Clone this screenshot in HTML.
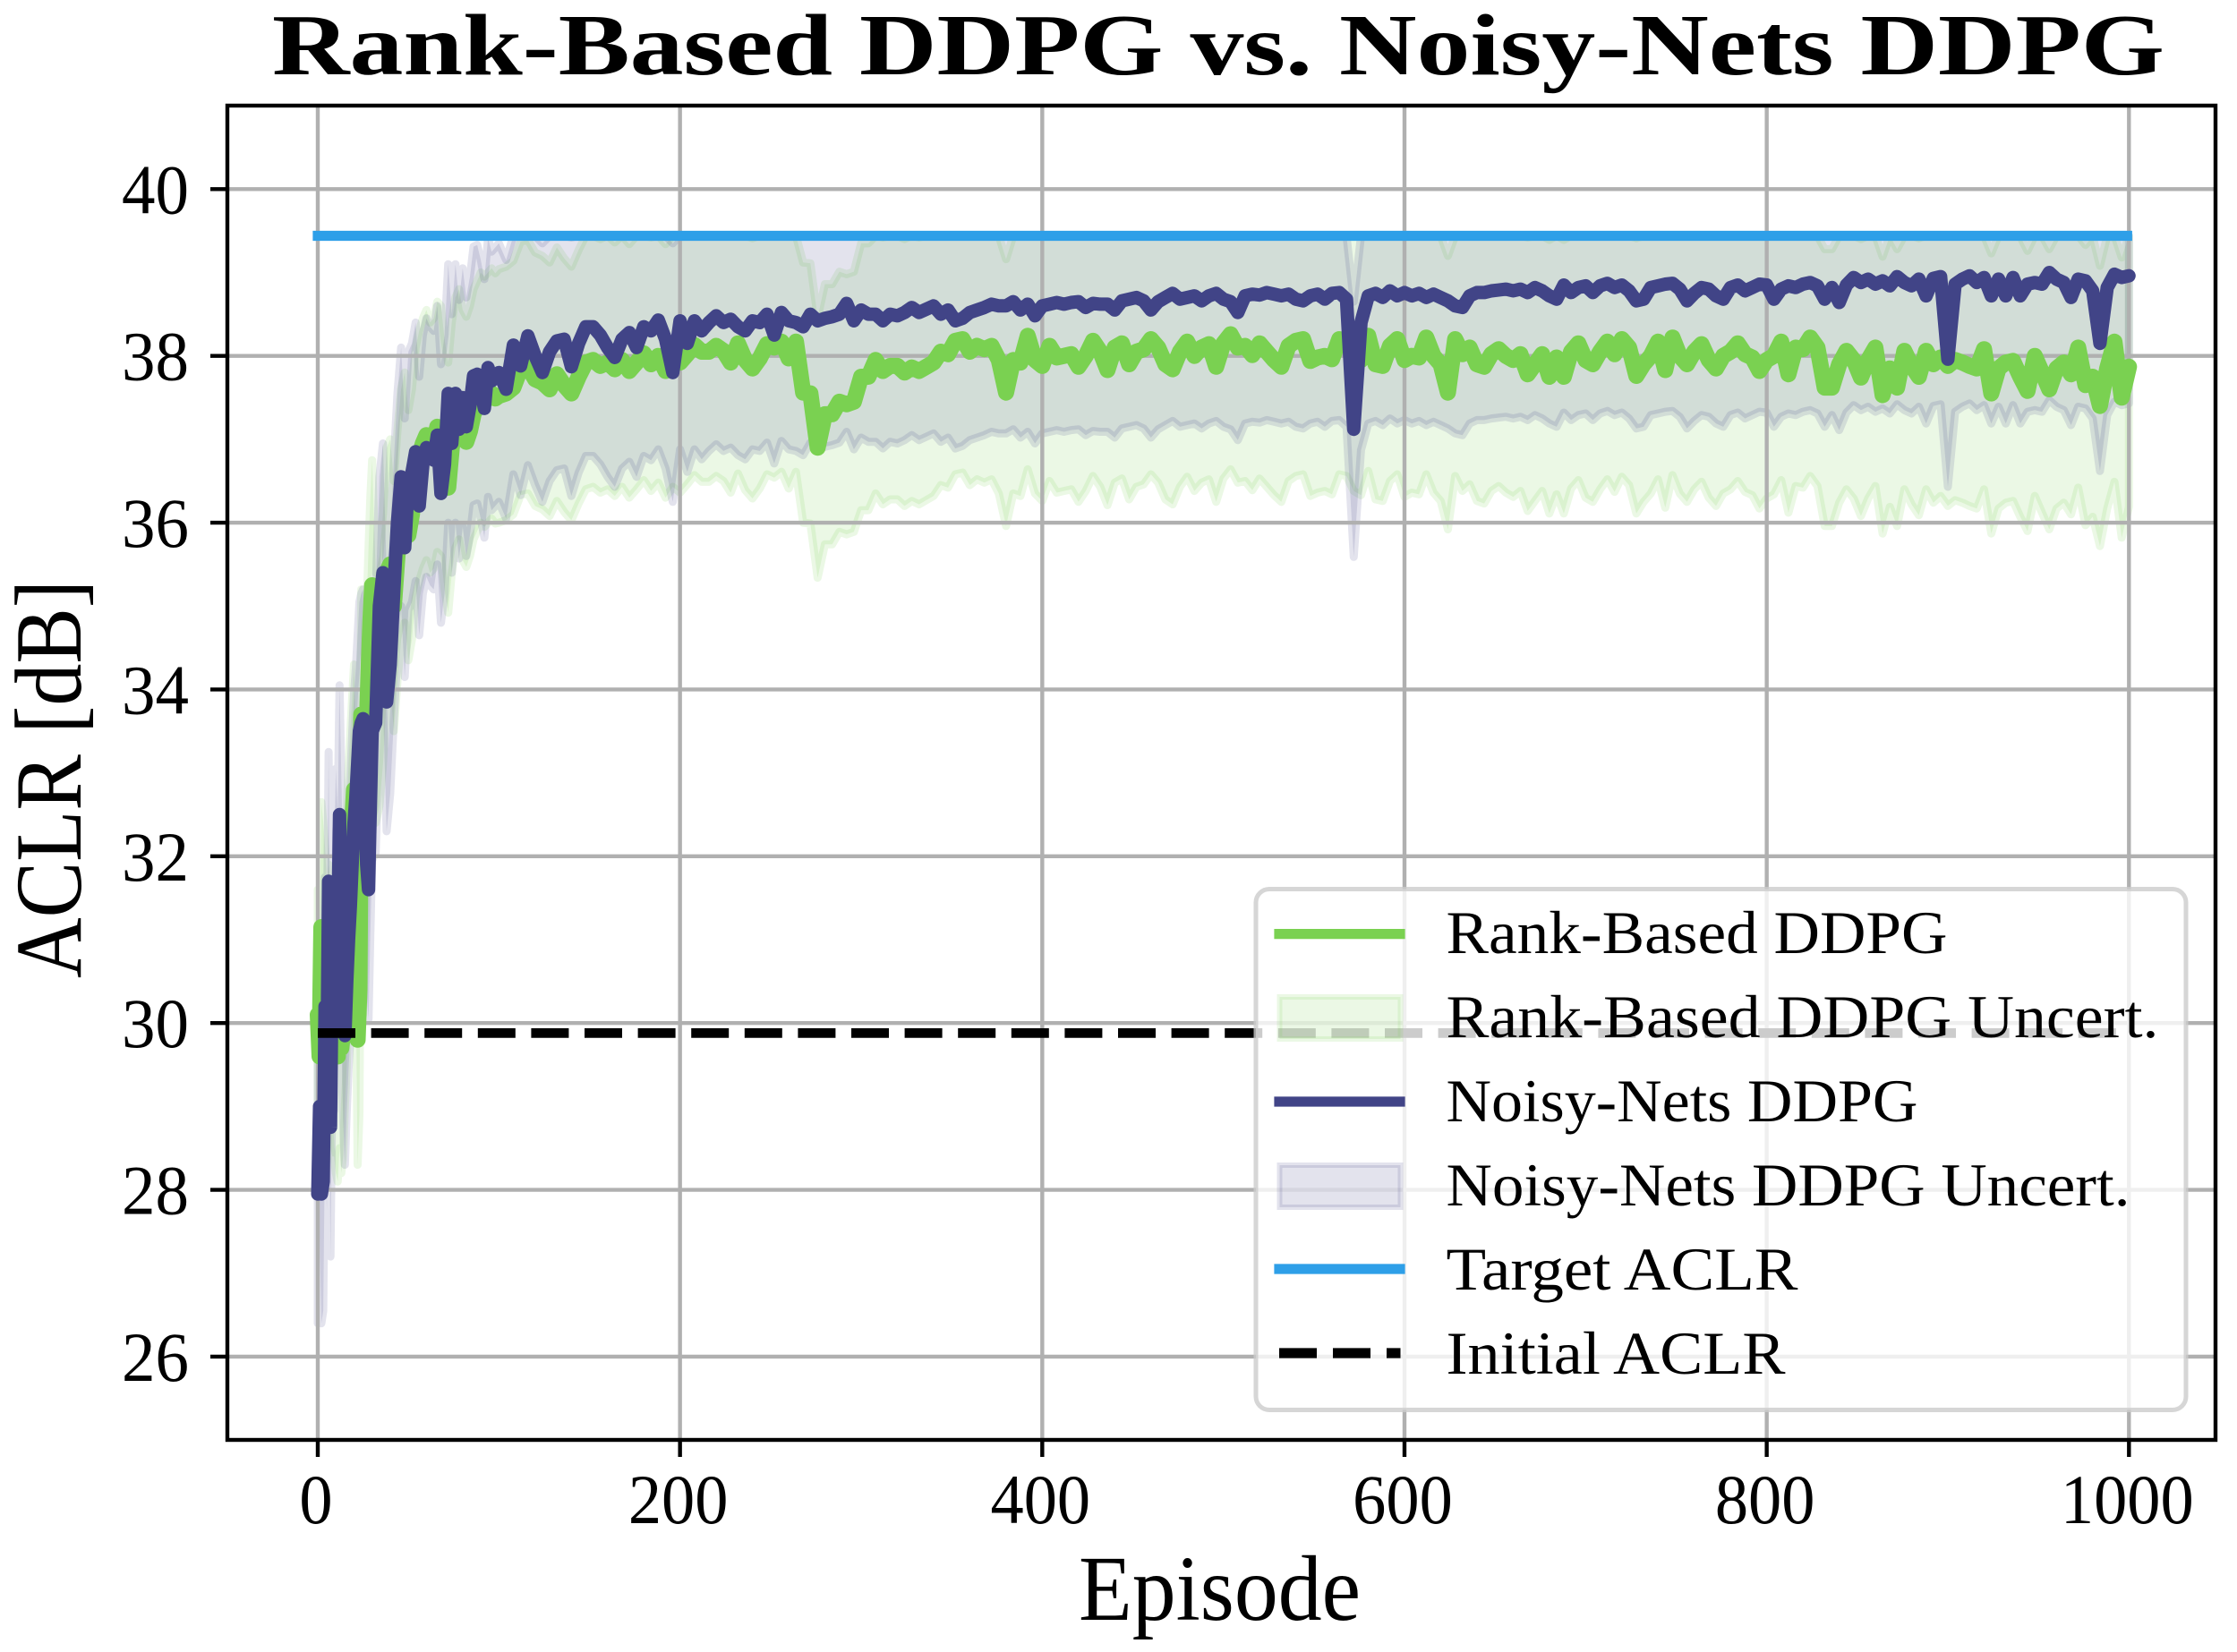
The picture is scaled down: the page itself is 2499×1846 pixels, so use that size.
<!DOCTYPE html>
<html lang="en">
<head>
<meta charset="utf-8">
<title>Rank-Based DDPG vs. Noisy-Nets DDPG</title>
<style>
html,body{margin:0;padding:0;background:#fff;}
svg{display:block;}
text{font-family:"Liberation Serif",serif;fill:#000;}
</style>
</head>
<body>
<svg id="chart" xmlns="http://www.w3.org/2000/svg" width="2499" height="1846" viewBox="0 0 2499 1846">
  <rect x="0" y="0" width="2499" height="1846" fill="#fff"/>
  <defs>
    <clipPath id="plot-clip"><rect x="254" y="118" width="2221" height="1491"/></clipPath>
  </defs>
  <text x="304" y="83" font-size="97" font-weight="bold" textLength="2114" lengthAdjust="spacingAndGlyphs">Rank-Based DDPG vs. Noisy-Nets DDPG</text>
  <g id="bands" clip-path="url(#plot-clip)"></g>
  <g id="grid" clip-path="url(#plot-clip)"></g>
  <g id="lines" clip-path="url(#plot-clip)"></g>
  <rect x="254" y="118" width="2221" height="1491" fill="none" stroke="#000" stroke-width="4.4"/>
  <g id="ticks"></g>
  <text x="1205" y="1810" font-size="104" textLength="315" lengthAdjust="spacingAndGlyphs">Episode</text>
  <text transform="translate(90,1093) rotate(-90)" font-size="106" textLength="445" lengthAdjust="spacingAndGlyphs">ACLR [dB]</text>
  <g id="legend">
    <rect x="1403" y="993.5" width="1039" height="582" rx="15" ry="15" fill="#fff" fill-opacity="0.8" stroke="#ccc" stroke-opacity="0.8" stroke-width="5"/>
    <line x1="1429" x2="1564" y1="1043.6" y2="1043.6" stroke="#7ad151" stroke-width="11.2" stroke-linecap="square"/>
    <rect x="1429.5" y="1114" width="135" height="47" fill="#7ad151" fill-opacity="0.15" stroke="#7ad151" stroke-opacity="0.15" stroke-width="6"/>
    <line x1="1429" x2="1564" y1="1231" y2="1231" stroke="#414487" stroke-width="11.2" stroke-linecap="square"/>
    <rect x="1429.5" y="1302" width="135" height="47" fill="#414487" fill-opacity="0.15" stroke="#414487" stroke-opacity="0.15" stroke-width="6"/>
    <line x1="1429" x2="1564" y1="1418" y2="1418" stroke="#2e9fe8" stroke-width="11.2" stroke-linecap="square"/>
    <line x1="1429" x2="1564.5" y1="1512" y2="1512" stroke="#000" stroke-width="11.2" stroke-dasharray="42 18"/>
    <text x="1615.5" y="1065" font-size="68" textLength="560" lengthAdjust="spacingAndGlyphs">Rank-Based DDPG</text>
    <text x="1615.5" y="1159" font-size="68" textLength="796" lengthAdjust="spacingAndGlyphs">Rank-Based DDPG Uncert.</text>
    <text x="1615.5" y="1253" font-size="68" textLength="527" lengthAdjust="spacingAndGlyphs">Noisy-Nets DDPG</text>
    <text x="1615.5" y="1347" font-size="68" textLength="764" lengthAdjust="spacingAndGlyphs">Noisy-Nets DDPG Uncert.</text>
    <text x="1615.5" y="1441" font-size="68" textLength="393" lengthAdjust="spacingAndGlyphs">Target ACLR</text>
    <text x="1615.5" y="1535" font-size="68" textLength="379" lengthAdjust="spacingAndGlyphs">Initial ACLR</text>
  </g>
</svg>
<script>
var xTickValues = [0, 200, 400, 600, 800, 1000];
var yTickValues = [26, 28, 30, 32, 34, 36, 38, 40];
var targetEpisodes = [0, 999];
var targetAclr = [39.44, 39.44];
var initialEpisodes = [0, 1000];
var initialAclr = [29.88, 29.88];
var rankHalfWidth = [1.5, 1.52, 1.56, 1.6, 1.62, 1.62, 1.64, 1.65, 1.66, 1.68, 1.68];
var noisyHalfWidth = [1.55, 1.55, 1.54, 1.53, 1.53, 1.53, 1.53, 1.53, 1.53, 1.53, 1.53];

var episodes = [
0,1,2,3,4,5,6,7,8,9,10,11,12,13,14,15,16,17,18,19,20,21,22,23,24,25,26,27,28,29,30,
32,34,36,38,40,42,44,46,48,50,52,54,56,58,60,62,64,66,68,70,72,74,76,78,80,82,84,86,88,90,92,94,96,98,
100,104,108,112,116,120,124,128,132,136,140,144,148,152,156,160,164,168,172,176,180,184,188,192,196,
200,204,208,212,216,220,224,228,232,236,240,244,248,252,256,260,264,268,272,276,280,284,288,292,296,
300,304,308,312,316,320,324,328,332,336,340,344,348,352,356,360,364,368,372,376,380,384,388,392,396,
400,404,408,412,416,420,424,428,432,436,440,444,448,452,456,460,464,468,472,476,480,484,488,492,496,
500,504,508,512,516,520,524,528,532,536,540,544,548,552,556,560,564,568,572,576,580,584,588,592,596,
600,604,608,612,616,620,624,628,632,636,640,644,648,652,656,660,664,668,672,676,680,684,688,692,696,
700,704,708,712,716,720,724,728,732,736,740,744,748,752,756,760,764,768,772,776,780,784,788,792,796,
800,804,808,812,816,820,824,828,832,836,840,844,848,852,856,860,864,868,872,876,880,884,888,892,896,
900,904,908,912,916,920,924,928,932,936,940,944,948,952,956,960,964,968,972,976,980,984,988,992,996,1000
];

var rankMean = [
30.1,29.6,31.15,30.9,30.6,30.2,30.4,30.0,29.9,29.9,29.7,
29.6,30.0,29.7,29.9,30.5,31.0,31.6,32.0,32.4,32.8,
32.0,29.8,30.4,33.7,31.6,32.5,33.5,34.2,34.8,35.25,
33.9,34.1,34.6,35.4,35.5,35.0,35.6,36.1,36.3,35.85,36.1,36.6,36.8,36.95,37.05,36.9,36.95,37.15,37.1,36.7,36.42,36.9,37.2,37.3,37.05,36.97,37.1,37.3,37.4,37.5,37.45,37.5,37.55,37.49,
37.52,37.55,37.62,37.85,37.87,37.72,37.68,37.6,37.78,37.65,37.55,37.75,37.92,37.95,37.88,37.92,37.84,37.95,37.82,37.92,38.03,37.9,38.0,37.82,37.95,
37.92,38.02,38.13,38.05,38.05,38.12,38.06,37.92,38.15,37.95,37.85,37.97,38.14,38.1,38.17,37.97,38.17,37.56,37.55,36.9,37.3,37.3,37.45,37.42,37.45,
37.75,37.75,37.95,37.82,37.88,37.88,37.8,37.86,37.82,37.87,37.92,38.05,38.02,38.18,38.2,38.05,38.12,38.08,38.12,37.95,37.56,37.95,37.92,38.24,37.95,
37.88,38.12,37.98,38.0,38.02,37.87,38.0,38.18,38.05,37.83,38.1,38.15,37.9,38.05,38.08,38.2,38.1,37.9,37.84,38.05,38.17,38.0,38.1,38.14,37.87,
38.15,38.26,38.1,38.12,38.01,38.15,38.05,37.95,37.87,38.12,38.18,38.2,37.94,37.98,38.0,37.96,38.2,38.18,38.0,37.95,38.24,37.9,37.88,38.12,38.2,
37.95,38.0,37.98,38.22,38.0,37.9,37.56,38.2,38.02,38.1,37.9,37.87,38.02,38.08,38.0,37.95,38.02,37.78,37.9,38.02,37.75,37.98,37.75,38.05,38.15,
37.95,37.9,38.05,38.17,38.02,38.2,38.1,37.76,37.9,38.0,38.17,37.83,38.22,38.0,37.9,38.05,38.14,37.95,37.85,38.0,38.05,38.15,38.02,37.98,37.82,
37.95,38.0,38.17,37.78,38.1,38.08,38.22,38.1,37.62,37.62,37.9,38.06,37.95,37.74,37.95,38.1,37.53,37.85,37.62,38.06,37.88,37.75,38.06,37.9,37.98,
37.88,37.95,37.92,37.88,37.85,38.08,37.55,37.85,37.92,37.94,37.75,37.58,38.0,37.8,37.6,37.85,37.92,37.78,38.1,37.65,37.75,37.4,37.85,38.17,37.5,37.87
];

var noisyMean = [
27.95,29.0,27.95,28.1,30.2,29.3,31.7,28.75,30.8,30.5,31.5,
31.0,32.5,31.4,30.4,29.85,30.5,31.0,31.4,31.9,32.4,
32.7,33.1,33.5,33.6,33.65,32.8,31.9,31.6,32.6,33.5,
33.6,35.0,35.4,33.85,34.3,35.2,36.0,36.55,35.7,36.5,36.6,36.85,36.2,36.7,36.9,36.8,36.75,37.05,36.35,36.7,37.55,36.95,37.55,37.12,37.5,37.15,37.4,37.76,37.78,37.6,37.37,37.86,37.7,37.75,
37.8,37.6,38.13,37.88,38.24,38.0,37.8,38.05,38.18,38.2,37.87,38.15,38.35,38.35,38.25,38.1,37.98,38.2,38.28,38.1,38.35,38.3,38.43,38.2,37.8,
38.42,38.15,38.42,38.3,38.4,38.48,38.4,38.44,38.35,38.3,38.42,38.4,38.5,38.25,38.52,38.42,38.4,38.35,38.5,38.42,38.45,38.47,38.5,38.63,38.42,
38.55,38.5,38.5,38.42,38.5,38.48,38.52,38.58,38.52,38.56,38.6,38.5,38.55,38.42,38.45,38.52,38.55,38.58,38.62,38.6,38.6,38.65,38.55,38.62,38.48,
38.6,38.62,38.64,38.62,38.64,38.65,38.58,38.63,38.62,38.62,38.55,38.66,38.68,38.7,38.66,38.55,38.65,38.7,38.75,38.68,38.7,38.72,38.66,38.72,38.75,
38.68,38.65,38.52,38.72,38.74,38.73,38.76,38.74,38.72,38.74,38.68,38.66,38.72,38.74,38.68,38.75,38.76,38.68,37.12,38.4,38.72,38.75,38.7,38.78,38.72,
38.76,38.72,38.75,38.7,38.74,38.7,38.66,38.6,38.58,38.72,38.76,38.76,38.78,38.79,38.8,38.78,38.8,38.76,38.82,38.78,38.72,38.68,38.85,38.76,38.82,
38.84,38.76,38.84,38.87,38.82,38.85,38.78,38.66,38.68,38.82,38.84,38.86,38.87,38.8,38.66,38.75,38.82,38.8,38.72,38.68,38.82,38.85,38.78,38.82,38.86,
38.85,38.68,38.8,38.84,38.82,38.86,38.88,38.84,38.68,38.82,38.64,38.85,38.94,38.88,38.92,38.86,38.9,38.84,38.95,38.88,38.84,38.92,38.72,38.93,38.95,
37.96,38.86,38.92,38.96,38.88,38.94,38.72,38.92,38.72,38.94,38.72,38.86,38.88,38.86,39.0,38.92,38.88,38.7,38.92,38.9,38.78,38.15,38.82,38.98,38.94,38.96
];

var SVG_NS = 'http://www.w3.org/2000/svg';
var PLOT_LEFT = 254, PLOT_RIGHT = 2475, PLOT_TOP = 118, PLOT_BOTTOM = 1609;

function xScale(e) { return 355 + 2.0233 * e; }
function yScale(v) { return 211.3 + (40 - v) * 93.19; }

function make(tag, attrs, parent) {
  var el = document.createElementNS(SVG_NS, tag);
  for (var k in attrs) { el.setAttribute(k, attrs[k]); }
  parent.appendChild(el);
  return el;
}

function linePath(xs, ys) {
  var d = '';
  for (var i = 0; i < xs.length; i++) {
    d += (i ? 'L' : 'M') + xScale(xs[i]).toFixed(1) + ' ' + yScale(ys[i]).toFixed(1);
  }
  return d;
}

function bandPath(xs, ys, widths, ceiling) {
  var upper = '', lower = '';
  for (var i = 0; i < xs.length; i++) {
    var hw = widths[Math.floor(xs[i] / 100)];
    var u = Math.min(ys[i] + hw, ceiling);
    upper += (i ? 'L' : 'M') + xScale(xs[i]).toFixed(1) + ' ' + yScale(u).toFixed(1);
  }
  for (var j = xs.length - 1; j >= 0; j--) {
    var hw2 = widths[Math.floor(xs[j] / 100)];
    lower += 'L' + xScale(xs[j]).toFixed(1) + ' ' + yScale(ys[j] - hw2).toFixed(1);
  }
  return upper + lower + 'Z';
}

var bands = document.getElementById('bands');
var grid = document.getElementById('grid');
var lines = document.getElementById('lines');
var ticks = document.getElementById('ticks');

var rankBand = make('path', {d: bandPath(episodes, rankMean, rankHalfWidth, targetAclr[0]), fill: '#7ad151', 'fill-opacity': 0.15, stroke: '#7ad151', 'stroke-opacity': 0.15, 'stroke-width': 9, 'stroke-linejoin': 'round'}, bands);



var noisyBand = make('path', {d: bandPath(episodes, noisyMean, noisyHalfWidth, targetAclr[0]), fill: '#414487', 'fill-opacity': 0.15, stroke: '#414487', 'stroke-opacity': 0.15, 'stroke-width': 9, 'stroke-linejoin': 'round'}, bands);



xTickValues.forEach(function (t) {
  var x = xScale(t);
  var g = make('line', {x1: x, x2: x, y1: PLOT_TOP, y2: PLOT_BOTTOM, stroke: '#b0b0b0', 'stroke-width': 4.4}, grid);
  
  
  var tk = make('line', {x1: x, x2: x, y1: PLOT_BOTTOM, y2: PLOT_BOTTOM + 19, stroke: '#000', 'stroke-width': 4.4}, ticks);
  
  
  var label = String(t);
  var lb = make('text', {x: x - 2, y: 1702, 'font-size': 78, 'text-anchor': 'middle', textLength: label.length * 37.2, lengthAdjust: 'spacingAndGlyphs'}, ticks);
  lb.textContent = label;
  
  
});

yTickValues.forEach(function (t) {
  var y = yScale(t);
  var g = make('line', {x1: PLOT_LEFT, x2: PLOT_RIGHT, y1: y, y2: y, stroke: '#b0b0b0', 'stroke-width': 4.4}, grid);
  
  
  var tk = make('line', {x1: PLOT_LEFT - 19, x2: PLOT_LEFT, y1: y, y2: y, stroke: '#000', 'stroke-width': 4.4}, ticks);
  
  
  var lb = make('text', {x: 136, y: y + 27, 'font-size': 78, textLength: 75, lengthAdjust: 'spacingAndGlyphs'}, ticks);
  lb.textContent = String(t);
  
  
});

var rankLine = make('path', {d: linePath(episodes, rankMean), fill: 'none', stroke: '#7ad151', 'stroke-width': 18, 'stroke-linejoin': 'round', 'stroke-linecap': 'round'}, lines);



var noisyLine = make('path', {d: linePath(episodes, noisyMean), fill: 'none', stroke: '#414487', 'stroke-width': 15, 'stroke-linejoin': 'round', 'stroke-linecap': 'round'}, lines);



var targetLine = make('path', {d: linePath(targetEpisodes, targetAclr), fill: 'none', stroke: '#2e9fe8', 'stroke-width': 11.2, 'stroke-linecap': 'square'}, lines);



var initialLine = make('path', {d: linePath(initialEpisodes, initialAclr), fill: 'none', stroke: '#000', 'stroke-width': 10.8, 'stroke-dasharray': '42 17.6'}, lines);


</script>
</body>
</html>
